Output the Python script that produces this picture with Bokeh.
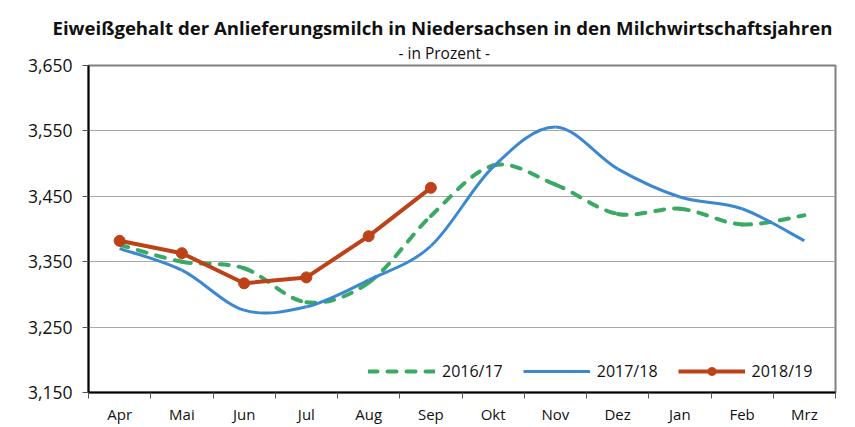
import numpy as np
from bokeh.plotting import figure
from bokeh.models import (FixedTicker, CustomJSTickFormatter, Title, Legend, LegendItem,
                          ColumnDataSource, Range1d)
from bokeh.embed import file_html
from bokeh.resources import INLINE

months = ["Apr", "Mai", "Jun", "Jul", "Aug", "Sep", "Okt", "Nov", "Dez", "Jan", "Feb", "Mrz"]
y_1617 = [3.376, 3.350, 3.340, 3.288, 3.318, 3.420, 3.497, 3.468, 3.423, 3.431, 3.407, 3.421]
y_1718 = [3.370, 3.337, 3.276, 3.281, 3.322, 3.374, 3.495, 3.556, 3.492, 3.449, 3.431, 3.382]
y_1819 = [3.382, 3.363, 3.317, 3.326, 3.389, 3.463]
y_ticks = [3.15, 3.25, 3.35, 3.45, 3.55, 3.65]
series_names = ["2016/17", "2017/18", "2018/19"]

FONT = "Open Sans"
GREEN = "#3aa963"
BLUE = "#3c88d0"
RED = "#bd4219"


def smooth_segments(ys):
    """Bezier control points for a smoothed (Excel-style) line through the data points."""
    xs = list(range(len(ys)))
    n = len(ys)
    d = dict(x0=[], y0=[], x1=[], y1=[], cx0=[], cy0=[], cx1=[], cy1=[])
    for i in range(n - 1):
        im1 = max(i - 1, 0)
        ip2 = min(i + 2, n - 1)
        d["x0"].append(xs[i]); d["y0"].append(ys[i])
        d["x1"].append(xs[i + 1]); d["y1"].append(ys[i + 1])
        d["cx0"].append(xs[i] + (xs[i + 1] - xs[im1]) / 6.0)
        d["cy0"].append(ys[i] + (ys[i + 1] - ys[im1]) / 6.0)
        d["cx1"].append(xs[i + 1] - (xs[ip2] - xs[i]) / 6.0)
        d["cy1"].append(ys[i + 1] - (ys[ip2] - ys[i]) / 6.0)
    return ColumnDataSource(d)


p = figure(width=855, height=427, output_backend="svg", toolbar_location=None,
           x_range=Range1d(-0.5, len(months) - 0.5), y_range=Range1d(y_ticks[0], y_ticks[-1]),
           min_border_left=88, min_border_right=20, min_border_top=65, min_border_bottom=35)

p.background_fill_color = "white"
p.border_fill_color = "white"
p.outline_line_color = "#808080"
p.outline_line_width = 2

# x axis: labels at category centres, tick marks at category boundaries
xa = p.xaxis[0]
xa.ticker = FixedTicker(ticks=list(range(len(months))),
                        minor_ticks=[i - 0.5 for i in range(len(months) + 1)])
xa.major_label_overrides = {i: m for i, m in enumerate(months)}
xa.major_tick_line_color = None
xa.minor_tick_line_color = "#555555"
xa.minor_tick_out = 6
xa.minor_tick_in = 0
xa.axis_line_color = "black"
xa.axis_line_width = 2
xa.major_label_text_font = FONT
xa.major_label_text_font_size = "15px"
xa.major_label_text_color = "#111111"
xa.major_label_standoff = 5

ya = p.yaxis[0]
ya.ticker = FixedTicker(ticks=y_ticks)
ya.formatter = CustomJSTickFormatter(code="return tick.toFixed(3).replace('.', ',');")
ya.major_tick_out = 6
ya.major_tick_in = 0
ya.major_tick_line_color = "#555555"
ya.minor_tick_line_color = None
ya.axis_line_color = "black"
ya.axis_line_width = 2
ya.major_label_text_font = FONT
ya.major_label_text_font_size = "17.5px"
ya.major_label_text_color = "#111111"
ya.major_label_standoff = 10

p.xgrid.visible = False
p.ygrid.ticker = FixedTicker(ticks=y_ticks[1:-1])
p.ygrid.grid_line_color = "#a8a8a8"
p.ygrid.grid_line_width = 1

r1 = p.bezier(source=smooth_segments(y_1617), x0="x0", y0="y0", x1="x1", y1="y1",
              cx0="cx0", cy0="cy0", cx1="cx1", cy1="cy1",
              line_color=GREEN, line_width=4, line_dash="9 10", line_cap="round")
r2 = p.bezier(source=smooth_segments(y_1718), x0="x0", y0="y0", x1="x1", y1="y1",
              cx0="cx0", cy0="cy0", cx1="cx1", cy1="cy1",
              line_color=BLUE, line_width=3)
src3 = ColumnDataSource(dict(x=list(range(len(y_1819))), y=y_1819))
r3 = p.line("x", "y", source=src3, line_color=RED, line_width=4)
r3m = p.scatter("x", "y", source=src3, size=11, fill_color=RED, line_color=RED)

legend = Legend(items=[LegendItem(label=series_names[0], renderers=[r1]),
                       LegendItem(label=series_names[1], renderers=[r2]),
                       LegendItem(label=series_names[2], renderers=[r3, r3m])],
                orientation="horizontal", location=(280, 10),
                glyph_width=67, glyph_height=20, label_standoff=7, spacing=20,
                padding=0, margin=0, border_line_color=None, background_fill_alpha=0,
                label_text_font=FONT, label_text_font_size="16px", label_text_color="#111111")
p.add_layout(legend, "center")

p.add_layout(Title(text="- in Prozent -", text_font=FONT, text_font_size="15.5px",
                   text_font_style="normal", text_color="#111111",
                   align="left", offset=310, standoff=4), "above")
p.add_layout(Title(text="Eiweißgehalt der Anlieferungsmilch in Niedersachsen in den Milchwirtschaftsjahren",
                   text_font=FONT, text_font_size="18.6px", text_font_style="bold",
                   text_color="#111111", align="left", offset=-36, standoff=-4), "above")

open("out.html", "w").write(file_html(p, INLINE))
